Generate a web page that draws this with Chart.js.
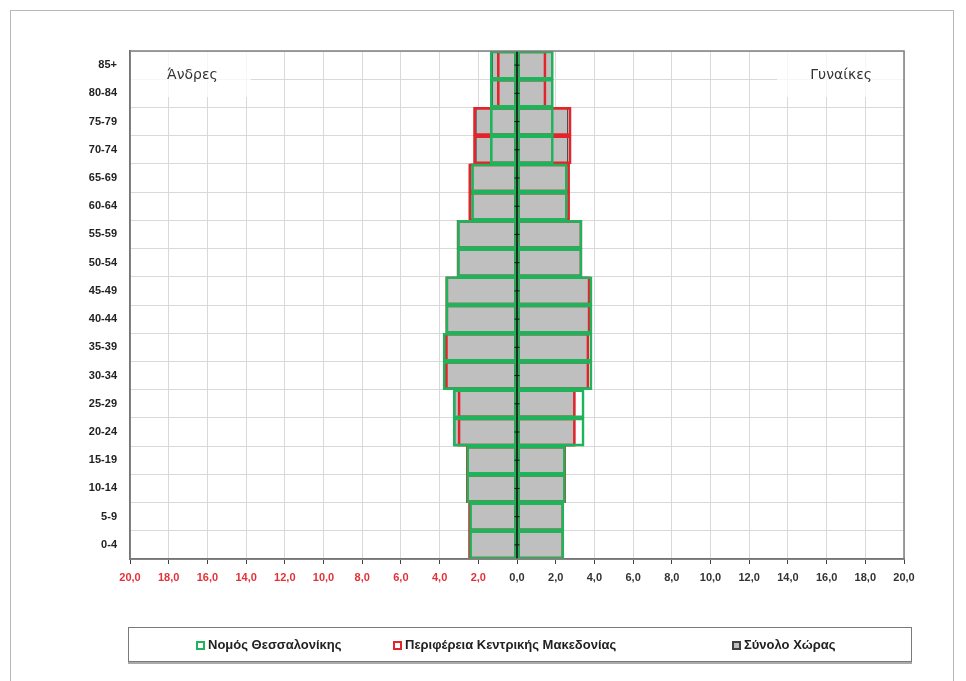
<!DOCTYPE html>
<html>
<head>
<meta charset="utf-8">
<script src="https://cdn.jsdelivr.net/npm/chart.js@4/dist/chart.umd.min.js"></script>
<style>
  html, body { margin: 0; padding: 0; background: #fff; }
  #wrap { position: relative; width: 966px; height: 681px; overflow: hidden; }
  #frame { position: absolute; left: 10px; top: 10px; width: 944px; height: 690px; border: 1px solid #b8b8b8; box-sizing: border-box; }
  canvas { position: absolute; left: 0; top: 0; }
  #legend { position: absolute; left: 128px; top: 627px; width: 784px; height: 35px; border: 1px solid #7a7a7a; box-sizing: border-box; box-shadow: 0 2px 0 #aaa; font: bold 13px "Liberation Sans", Arial, sans-serif; color: #222; }
  .item { position: absolute; top: 9px; white-space: nowrap; }
  .sw { display: inline-block; width: 9px; height: 9px; margin-right: 3px; vertical-align: -1px; box-sizing: border-box; }
</style>
</head>
<body>
<div id="wrap">
  <div id="frame"></div>
  <canvas id="c" width="966" height="681"></canvas>
  <div id="legend"></div>
</div>
<script>
// ----- data (percent of population) -----
const ages = ['0-4','5-9','10-14','15-19','20-24','25-29','30-34','35-39','40-44','45-49','50-54','55-59','60-64','65-69','70-74','75-79','80-84','85+'];
const seriesNames = ['Νομός Θεσσαλονίκης', 'Περιφέρεια Κεντρικής Μακεδονίας', 'Σύνολο Χώρας'];
const thessMen    = [2.45,2.45,2.60,2.60,3.30,3.30,3.82,3.82,3.68,3.68,3.08,3.08,2.35,2.35,1.38,1.38,1.38,1.38];
const thessWomen  = [2.42,2.42,2.50,2.50,3.47,3.47,3.88,3.88,3.88,3.88,3.36,3.36,2.60,2.60,1.88,1.88,1.88,1.88];
const regionMen   = [2.50,2.50,2.62,2.62,3.05,3.05,3.70,3.70,3.68,3.68,3.10,3.10,2.50,2.50,2.25,2.25,1.02,1.02];
const regionWomen = [2.42,2.42,2.52,2.52,3.02,3.02,3.72,3.72,3.78,3.78,3.36,3.36,2.72,2.72,2.80,2.80,1.50,1.50];
const countryMen  = [2.50,2.50,2.62,2.62,3.25,3.25,3.75,3.75,3.68,3.68,3.10,3.10,2.42,2.42,2.15,2.15,1.30,1.30];
const countryWomen= [2.40,2.40,2.50,2.50,3.00,3.00,3.72,3.72,3.80,3.80,3.34,3.34,2.60,2.60,2.65,2.65,1.85,1.85];
const xMin = -20, xMax = 20, xStep = 2;
const sideLabels = ['Άνδρες', 'Γυναίκες'];

const GREEN = '#1fb35b', RED = '#e3242b', GREYF = '#bfbfbf', GREYB = '#404040';
const neg = a => a.map(v => -v);

function ds(label, data, fill, border, width) {
  return { label, data, backgroundColor: fill, borderColor: border, borderWidth: width,
           borderSkipped: false, grouped: false, barPercentage: 1, categoryPercentage: 1 };
}

const plotDeco = {
  id: 'plotDeco',
  beforeDatasetsDraw(chart) {
    const { ctx, chartArea: a } = chart;
    ctx.save();
    ctx.fillStyle = 'rgba(255,255,255,0.75)';
    ctx.fillRect(a.left + 1, a.top + 1, 120, 45);
    ctx.fillRect(a.right - 127, a.top + 1, 126, 45);
    ctx.fillStyle = '#333';
    ctx.font = '14px "DejaVu Sans", sans-serif';
    ctx.textBaseline = 'middle';
    ctx.textAlign = 'left';
    ctx.fillText(sideLabels[0], a.left + 37, a.top + 24);
    ctx.textAlign = 'right';
    ctx.fillText(sideLabels[1], a.right - 32, a.top + 24);
    ctx.restore();
  },
  afterDatasetsDraw(chart) {
    const { ctx, chartArea: a, scales } = chart;
    const x0 = scales.x.getPixelForValue(0);
    ctx.save();
    ctx.strokeStyle = '#111';
    ctx.lineWidth = 1.5;
    ctx.beginPath();
    ctx.moveTo(x0, a.top); ctx.lineTo(x0, a.bottom);
    ctx.stroke();
    ctx.lineWidth = 1;
    ages.forEach((_, i) => {
      const y = scales.y.getPixelForValue(i);
      ctx.beginPath();
      ctx.moveTo(x0 - 2.5, y); ctx.lineTo(x0 + 2.5, y);
      ctx.stroke();
    });
    ctx.strokeStyle = '#7f7f7f';
    ctx.lineWidth = 1.5;
    ctx.strokeRect(a.left, a.top, a.right - a.left, a.bottom - a.top);
    ctx.restore();
  }
};

new Chart(document.getElementById('c'), {
  type: 'bar',
  data: {
    labels: ages,
    datasets: [
      ds(seriesNames[0], neg(thessMen), 'rgba(0,0,0,0)', GREEN, 2),
      ds(seriesNames[0], thessWomen, 'rgba(0,0,0,0)', GREEN, 2),
      ds(seriesNames[1], neg(regionMen), 'rgba(0,0,0,0)', RED, 2),
      ds(seriesNames[1], regionWomen, 'rgba(0,0,0,0)', RED, 2),
      ds(seriesNames[2], neg(countryMen), GREYF, GREYB, 1.5),
      ds(seriesNames[2], countryWomen, GREYF, GREYB, 1.5)
    ]
  },
  options: {
    indexAxis: 'y',
    responsive: false,
    animation: false,
    devicePixelRatio: 1,
    layout: { padding: { left: 70, top: 51, right: 62, bottom: 92 } },
    plugins: { legend: { display: false }, tooltip: { enabled: false } },
    scales: {
      x: {
        min: xMin, max: xMax,
        afterFit: s => { s.height = 30; },
        grid: { color: '#d9d9d9', lineWidth: 1, drawTicks: true, tickLength: 5, tickColor: '#444' },
        border: { display: true, color: '#555', width: 1.5 },
        ticks: {
          stepSize: xStep, padding: 7, maxRotation: 0, autoSkip: false,
          font: { family: '"Liberation Sans", Arial, sans-serif', size: 11, weight: 'bold' },
          color: c => (c.tick.value < 0 ? '#e03238' : '#333'),
          callback: v => Math.abs(v).toFixed(1).replace('.', ',')
        }
      },
      y: {
        reverse: true,
        afterFit: s => { s.width = 60; },
        grid: { color: '#d9d9d9', lineWidth: 1, drawTicks: false, offset: true },
        border: { display: true, color: '#555', width: 1.5 },
        ticks: {
          padding: 13, autoSkip: false,
          font: { family: '"Liberation Sans", Arial, sans-serif', size: 11, weight: 'bold' },
          color: '#222'
        }
      }
    }
  },
  plugins: [plotDeco]
});

const legendItems = [
  { name: seriesNames[0], left: 67, fill: '#fff', border: GREEN },
  { name: seriesNames[1], left: 264, fill: '#fff', border: RED },
  { name: seriesNames[2], left: 603, fill: GREYF, border: GREYB }
];
const lg = document.getElementById('legend');
legendItems.forEach(it => {
  const d = document.createElement('div');
  d.className = 'item';
  d.style.left = it.left + 'px';
  d.innerHTML = '<span class="sw" style="background:' + it.fill + ';border:2px solid ' + it.border + '"></span>' + it.name;
  lg.appendChild(d);
});
</script>
</body>
</html>
